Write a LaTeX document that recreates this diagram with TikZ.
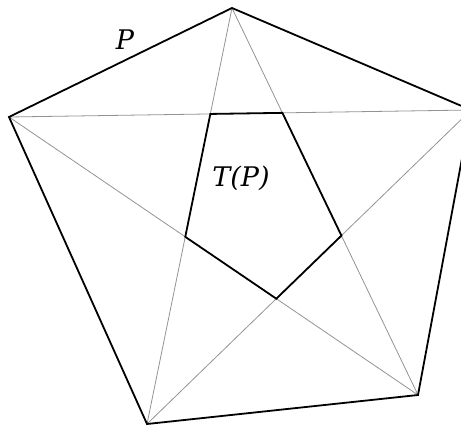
\documentclass[tikz,border=0pt]{standalone}
\usepackage{fontspec}
\setmainfont{DejaVu Serif}
\begin{document}
\begin{tikzpicture}[x=1pt,y=-1pt,
  outer/.style={line width=1.8pt,line join=miter},
  diag/.style={line width=0.8pt,gray!85},
  inner/.style={line width=1.8pt},
  lbl/.style={font=\fontsize{27}{31}\selectfont\itshape,inner sep=0pt}]
\useasboundingbox (0,0) rectangle (461,425);
\begin{scope}
\clip (0,0) rectangle (461,425);
\coordinate (A) at (232,8);
\coordinate (B) at (471,110);
\coordinate (C) at (418,395);
\coordinate (D) at (147,424);
\coordinate (E) at (9,117);
\draw[diag] (A) -- (C) (A) -- (D) (B) -- (D) (B) -- (E) (C) -- (E);
\draw[outer] (A) -- (B) -- (C) -- (D) -- (E) -- cycle;
\coordinate (p1) at (intersection of A--D and B--E);
\coordinate (p2) at (intersection of A--C and B--E);
\coordinate (p3) at (intersection of A--C and B--D);
\coordinate (p4) at (intersection of B--D and C--E);
\coordinate (p5) at (intersection of A--D and C--E);
\draw[inner] (p1) -- (p2) -- (p3) -- (p4) -- (p5) -- cycle;
\end{scope}
\node[lbl] (lp) at (125,40) {P};
\node[lbl] (ltp) at (241,178) {T(P)};
\end{tikzpicture}
\end{document}
